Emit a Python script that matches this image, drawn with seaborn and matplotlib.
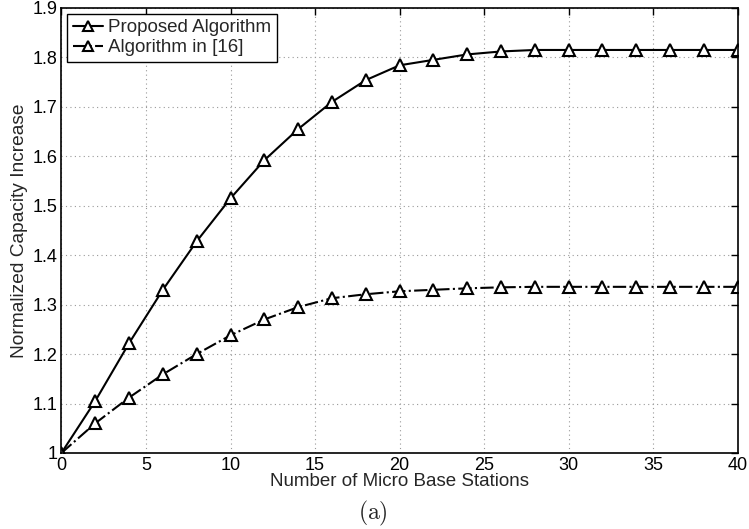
import matplotlib
matplotlib.use("Agg")
import matplotlib.pyplot as plt
import seaborn as sns
import pandas as pd
from matplotlib.ticker import FuncFormatter

x_vals = [0, 2, 4, 6, 8, 10, 12, 14, 16, 18, 20, 22, 24, 26, 28, 30, 32, 34, 36, 38, 40]
proposed = [1.0, 1.105, 1.222, 1.330, 1.428, 1.515, 1.592, 1.655, 1.710, 1.754, 1.784,
            1.795, 1.806, 1.812, 1.815, 1.815, 1.815, 1.815, 1.815, 1.815, 1.815]
baseline = [1.0, 1.060, 1.112, 1.159, 1.200, 1.238, 1.270, 1.295, 1.313, 1.321, 1.327,
            1.330, 1.333, 1.335, 1.336, 1.336, 1.336, 1.336, 1.336, 1.336, 1.336]
series_names = ["Proposed Algorithm", "Algorithm in [16]"]
xlabel = "Number of Micro Base Stations"
ylabel = "Normalized Capacity Increase"

sns.set_style("white")
plt.rcParams['font.family'] = ['Liberation Sans', 'DejaVu Sans']
plt.rcParams['mathtext.fontset'] = 'cm'

fig = plt.figure(figsize=(7.49, 5.29), dpi=100)
ax = fig.add_axes([0.082, 0.1437, 0.903, 0.8413])

df1 = pd.DataFrame({"x": x_vals, "y": proposed})
df2 = pd.DataFrame({"x": x_vals, "y": baseline})
mk = dict(marker='^', markersize=9, markerfacecolor='white', markeredgecolor='black',
          markeredgewidth=1.5, color='black', linewidth=1.5)
sns.lineplot(data=df1, x="x", y="y", ax=ax, label=series_names[0], linestyle='-', **mk)
sns.lineplot(data=df2, x="x", y="y", ax=ax, label=series_names[1], linestyle='-.', **mk)

ax.set_xlim(0, 40)
ax.set_ylim(1, 1.9)
ax.set_xticks(range(0, 41, 5))
ax.set_yticks([1 + 0.1 * i for i in range(10)])
ax.yaxis.set_major_formatter(FuncFormatter(lambda v, p: f"{round(v, 1):g}"))
ax.grid(True, linestyle=(0, (1, 3)), color='#999999', linewidth=0.8)
ax.tick_params(direction='in', length=5, width=1, top=True, right=True,
               labelsize=13, colors='black', pad=3)
for s in ax.spines.values():
    s.set_color('black')
    s.set_linewidth(1.2)
ax.set_xlabel(xlabel, fontsize=13.5, labelpad=-1)
ax.set_ylabel(ylabel, fontsize=13.8, labelpad=3)

leg = ax.legend(loc='upper left', fontsize=13.5, frameon=True, fancybox=False,
                borderaxespad=0.3, handlelength=1.6, borderpad=0.3,
                labelspacing=0.15, handletextpad=0.3, markerscale=0.8)
leg.get_frame().set_edgecolor('black')
leg.get_frame().set_linewidth(1.0)
leg.get_frame().set_alpha(1)

fig.text(0.498, 0.03, r"$\mathrm{(a)}$", ha='center', va='center', fontsize=17)

fig.savefig("out.png", dpi=100)
